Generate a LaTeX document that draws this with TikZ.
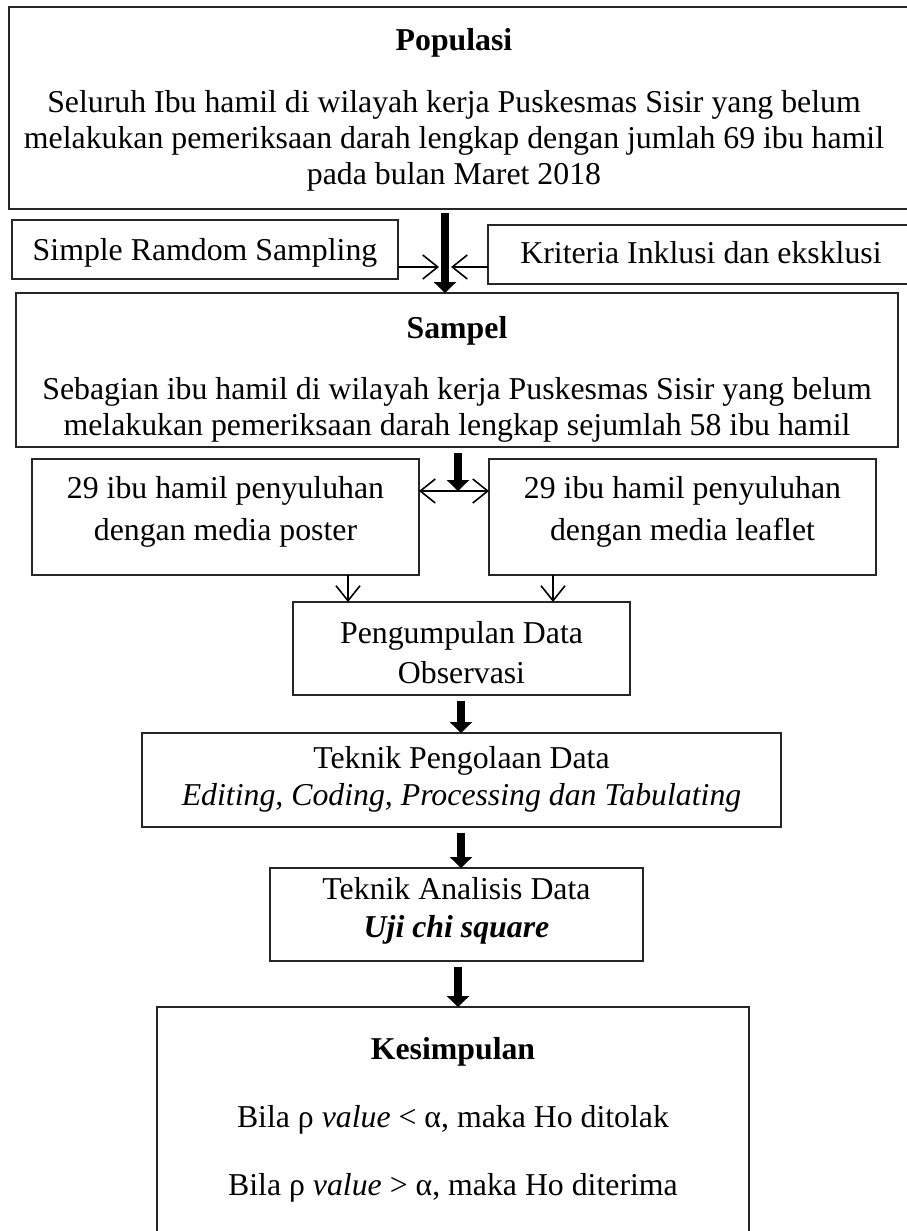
\documentclass[tikz,border=0pt]{standalone}
\usepackage{fontspec}
\setmainfont{Liberation Serif}
\usetikzlibrary{arrows.meta}
\tikzset{
  box/.style={draw=black!85, line width=1.3pt, inner sep=0pt, outer sep=0pt},
  txt/.style={anchor=base, inner sep=0pt, font=\fontsize{31.8pt}{36pt}\selectfont},
  fat/.style={line width=8pt, -{Triangle[length=11pt,width=22pt]}},
  thin/.style={line width=1.6pt, -{Straight Barb[length=15pt,width=24pt]}},
  both/.style={line width=1.6pt, {Straight Barb[length=15pt,width=24pt]}-{Straight Barb[length=15pt,width=24pt]}}
}
\begin{document}
\begin{tikzpicture}[x=1pt,y=-1pt]
\useasboundingbox (0,0) rectangle (906,1231);
% boxes
\node[box, minimum width=951pt, minimum height=202pt] (pop) at (484.5,108) {};
\node[box, minimum width=386pt, minimum height=59pt] (srs) at (205,249.5) {};
\node[box, minimum width=472pt, minimum height=59pt] (krit) at (724,254.5) {};
\node[box, minimum width=882pt, minimum height=154pt] (samp) at (457,370) {};
\node[box, minimum width=387pt, minimum height=116pt] (post) at (225.5,517) {};
\node[box, minimum width=387pt, minimum height=116pt] (leaf) at (682.5,517) {};
\node[box, minimum width=337pt, minimum height=93pt] (peng) at (461.5,648.5) {};
\node[box, minimum width=639pt, minimum height=94pt] (olah) at (461.5,780) {};
\node[box, minimum width=373pt, minimum height=93pt] (anal) at (456.5,914.5) {};
\node[box, minimum width=592pt, minimum height=253pt] (kes) at (453,1133.5) {};
% texts
\node[txt] (popT) at (454,51) {\textbf{Populasi}};
\node[txt] (popA) at (454,112) {Seluruh Ibu hamil di wilayah kerja Puskesmas Sisir yang belum};
\node[txt] (popB) at (454,148) {melakukan pemeriksaan darah lengkap dengan jumlah 69 ibu hamil};
\node[txt] (popC) at (454,184) {pada bulan Maret 2018};
\node[txt] (srsT) at (205,260) {Simple Ramdom Sampling};
\node[txt] (kritT) at (701,263) {Kriteria Inklusi dan eksklusi};
\node[txt] (sampT) at (457,338) {\textbf{Sampel}};
\node[txt] (sampA) at (457,399) {Sebagian ibu hamil di wilayah kerja Puskesmas Sisir yang belum};
\node[txt] (sampB) at (457,435) {melakukan pemeriksaan darah lengkap sejumlah 58 ibu hamil};
\node[txt] (postA) at (225.5,498) {29 ibu hamil penyuluhan};
\node[txt] (postB) at (225.5,540) {dengan media poster};
\node[txt] (leafA) at (682.5,498) {29 ibu hamil penyuluhan};
\node[txt] (leafB) at (682.5,540) {dengan media leaflet};
\node[txt] (pengA) at (461.5,643) {Pengumpulan Data};
\node[txt] (pengB) at (461.5,683) {Observasi};
\node[txt] (olahA) at (461.5,768) {Teknik Pengolaan Data};
\node[txt] (olahB) at (461.5,805) {\itshape Editing, Coding, Processing dan Tabulating};
\node[txt] (analA) at (456.5,899) {Teknik Analisis Data};
\node[txt] (analB) at (456.5,937) {\bfseries\itshape Uji chi square};
\node[txt] (kesT) at (453,1059) {\textbf{Kesimpulan}};
\node[txt] (kesA) at (453,1127) {Bila ρ \textit{value} < α, maka Ho ditolak};
\node[txt] (kesB) at (453,1195) {Bila ρ \textit{value} > α, maka Ho diterima};
% helper coordinates
\coordinate (a1) at (445,267);
\coordinate (m1) at (439,267);
\coordinate (m2) at (451,267);
\coordinate (j2) at (458,491);
\coordinate (v1) at (348,0);
\coordinate (v2) at (553,0);
\coordinate (a3) at (461,0);
\coordinate (a5) at (458,0);
% connectors
\draw[fat, shorten <=4pt] (a1 |- pop.south) -- (a1 |- samp.north);
\draw[thin] (srs.east |- a1) -- (m1);
\draw[thin] (krit.west |- a1) -- (m2);
\draw[fat, shorten <=6pt] (samp.south -| j2) -- (j2);
\draw[both] (post.east |- j2) -- (leaf.west |- j2);
\draw[thin] (v1 |- post.south) -- (v1 |- peng.north);
\draw[thin] (v2 |- leaf.south) -- (v2 |- peng.north);
\draw[fat, shorten <=6pt] (a3 |- peng.south) -- (a3 |- olah.north);
\draw[fat, shorten <=6pt] (a3 |- olah.south) -- (a3 |- anal.north);
\draw[fat, shorten <=6pt] (a5 |- anal.south) -- (a5 |- kes.north);
\end{tikzpicture}
\end{document}
